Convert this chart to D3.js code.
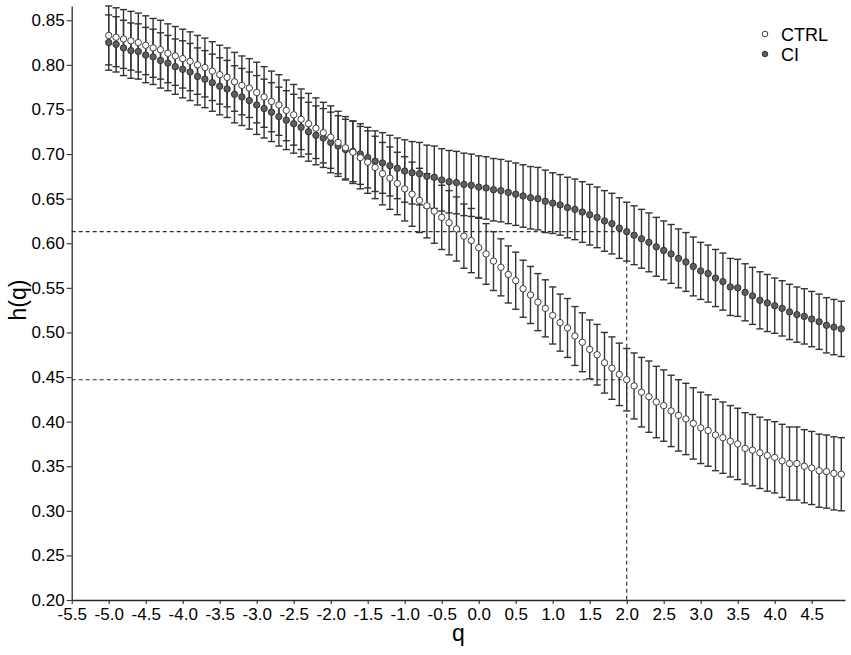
<!DOCTYPE html>
<html>
<head>
<meta charset="utf-8">
<script src="https://cdn.jsdelivr.net/npm/d3@7"></script>
<style>
  html, body { margin: 0; padding: 0; background: #fff; }
  svg { display: block; font-family: Arial, "Liberation Sans", sans-serif; }
</style>
</head>
<body>
<svg id="chart" width="851" height="655"></svg>
<script>
const qValues = [-5.0,-4.9,-4.8,-4.7,-4.6,-4.5,-4.4,-4.3,-4.2,-4.1,
  -4.0,-3.9,-3.8,-3.7,-3.6,-3.5,-3.4,-3.3,-3.2,-3.1,
  -3.0,-2.9,-2.8,-2.7,-2.6,-2.5,-2.4,-2.3,-2.2,-2.1,
  -2.0,-1.9,-1.8,-1.7,-1.6,-1.5,-1.4,-1.3,-1.2,-1.1,
  -1.0,-0.9,-0.8,-0.7,-0.6,-0.5,-0.4,-0.3,-0.2,-0.1,
  0.0,0.1,0.2,0.3,0.4,0.5,0.6,0.7,0.8,0.9,
  1.0,1.1,1.2,1.3,1.4,1.5,1.6,1.7,1.8,1.9,
  2.0,2.1,2.2,2.3,2.4,2.5,2.6,2.7,2.8,2.9,
  3.0,3.1,3.2,3.3,3.4,3.5,3.6,3.7,3.8,3.9,
  4.0,4.1,4.2,4.3,4.4,4.5,4.6,4.7,4.8,4.9];

const ctrlMean = [0.833,0.831,0.829,0.827,0.825,0.822,0.819,0.817,0.813,0.810,
  0.807,0.804,0.800,0.797,0.793,0.789,0.786,0.781,0.777,0.774,
  0.769,0.764,0.759,0.755,0.749,0.744,0.739,0.734,0.729,0.724,
  0.719,0.713,0.707,0.702,0.696,0.691,0.685,0.678,0.673,0.667,
  0.661,0.655,0.648,0.642,0.636,0.629,0.623,0.616,0.608,0.603,
  0.595,0.588,0.580,0.573,0.565,0.558,0.549,0.542,0.534,0.527,
  0.519,0.511,0.505,0.496,0.489,0.481,0.475,0.466,0.460,0.453,
  0.447,0.440,0.433,0.428,0.422,0.418,0.412,0.407,0.403,0.398,
  0.393,0.390,0.385,0.382,0.378,0.375,0.370,0.368,0.365,0.362,
  0.360,0.356,0.353,0.353,0.350,0.348,0.345,0.344,0.342,0.341];

const ctrlErr = [0.033,0.033,0.033,0.033,0.033,0.033,0.033,0.033,0.033,0.033,
  0.033,0.033,0.033,0.033,0.033,0.033,0.033,0.033,0.033,0.033,
  0.034,0.034,0.034,0.034,0.034,0.034,0.034,0.034,0.034,0.034,
  0.035,0.035,0.035,0.035,0.035,0.035,0.035,0.035,0.035,0.035,
  0.036,0.036,0.036,0.036,0.036,0.036,0.036,0.036,0.036,0.036,
  0.034,0.034,0.033,0.032,0.032,0.032,0.032,0.032,0.032,0.032,
  0.032,0.032,0.033,0.033,0.033,0.033,0.034,0.034,0.035,0.035,
  0.035,0.037,0.039,0.040,0.040,0.040,0.040,0.040,0.040,0.040,
  0.040,0.040,0.040,0.040,0.040,0.040,0.040,0.040,0.040,0.040,
  0.040,0.041,0.041,0.041,0.041,0.041,0.041,0.041,0.041,0.041];

const ciMean = [0.825,0.823,0.819,0.816,0.815,0.811,0.809,0.805,0.802,0.798,
  0.795,0.792,0.787,0.784,0.780,0.776,0.773,0.767,0.764,0.760,
  0.755,0.751,0.747,0.742,0.738,0.734,0.730,0.725,0.721,0.718,
  0.713,0.709,0.705,0.703,0.700,0.696,0.692,0.690,0.687,0.684,
  0.681,0.679,0.678,0.675,0.674,0.671,0.669,0.668,0.666,0.665,
  0.663,0.662,0.660,0.659,0.657,0.655,0.653,0.651,0.650,0.647,
  0.645,0.643,0.640,0.638,0.635,0.632,0.629,0.625,0.622,0.617,
  0.613,0.609,0.605,0.601,0.596,0.592,0.588,0.583,0.579,0.574,
  0.569,0.566,0.561,0.557,0.551,0.550,0.545,0.541,0.536,0.533,
  0.530,0.527,0.523,0.520,0.518,0.515,0.512,0.508,0.506,0.504];

const ciErr = [0.031,0.031,0.031,0.031,0.031,0.031,0.031,0.031,0.031,0.031,
  0.032,0.032,0.032,0.032,0.032,0.032,0.032,0.032,0.032,0.032,
  0.033,0.033,0.033,0.033,0.033,0.033,0.033,0.033,0.033,0.033,
  0.034,0.034,0.034,0.034,0.034,0.034,0.034,0.034,0.034,0.034,
  0.035,0.035,0.035,0.035,0.035,0.035,0.035,0.035,0.035,0.035,
  0.035,0.035,0.035,0.035,0.035,0.035,0.035,0.035,0.035,0.035,
  0.034,0.034,0.034,0.034,0.034,0.034,0.034,0.034,0.034,0.034,
  0.033,0.033,0.033,0.033,0.033,0.033,0.033,0.033,0.033,0.033,
  0.032,0.032,0.032,0.032,0.032,0.032,0.032,0.032,0.032,0.032,
  0.031,0.031,0.031,0.031,0.031,0.031,0.031,0.031,0.031,0.031];

const seriesNames = ["CTRL", "CI"];
const xTicks = [-5.5,-5.0,-4.5,-4.0,-3.5,-3.0,-2.5,-2.0,-1.5,-1.0,-0.5,0.0,0.5,1.0,1.5,2.0,2.5,3.0,3.5,4.0,4.5];
const yTicks = [0.20,0.25,0.30,0.35,0.40,0.45,0.50,0.55,0.60,0.65,0.70,0.75,0.80,0.85];
const refQ = 2.0;
const refH = [0.613, 0.447];

const svg = d3.select("#chart");
const x = d3.scaleLinear().domain([-5.5, 4.95]).range([71.7, 845]);
const y = d3.scaleLinear().domain([0.2, 0.866]).range([600, 6]);

const ink = "#2b2b2b";

// reference dashed lines
const refG = svg.append("g").attr("stroke", ink).attr("stroke-width", 1.1)
  .attr("stroke-dasharray", "4,3").attr("fill", "none");
refH.forEach(h => {
  refG.append("line").attr("x1", x(-5.5)).attr("x2", x(refQ)).attr("y1", y(h)).attr("y2", y(h));
});
refG.append("line").attr("x1", x(refQ)).attr("x2", x(refQ)).attr("y1", y(refH[0])).attr("y2", y(0.2));

const ctrl = qValues.map((q, i) => ({q, m: ctrlMean[i], e: ctrlErr[i]}));
const ci = qValues.map((q, i) => ({q, m: ciMean[i], e: ciErr[i]}));

function errorBars(data) {
  const g = svg.append("g").attr("stroke", "#333").attr("stroke-width", 1.4).attr("fill", "none");
  const cap = 3.6;
  data.forEach(d => {
    const cx = x(d.q), y1 = y(d.m + d.e), y2 = y(d.m - d.e);
    g.append("line").attr("x1", cx).attr("x2", cx).attr("y1", y1).attr("y2", y2);
    g.append("line").attr("x1", cx - cap).attr("x2", cx + cap).attr("y1", y1).attr("y2", y1);
    g.append("line").attr("x1", cx - cap).attr("x2", cx + cap).attr("y1", y2).attr("y2", y2);
  });
}
errorBars(ctrl);
errorBars(ci);

svg.append("g").selectAll("circle").data(ci).join("circle")
  .attr("cx", d => x(d.q)).attr("cy", d => y(d.m)).attr("r", 3.2)
  .attr("fill", "#5e5e5e").attr("stroke", "#2a2a2a").attr("stroke-width", 0.9);
svg.append("g").selectAll("circle").data(ctrl).join("circle")
  .attr("cx", d => x(d.q)).attr("cy", d => y(d.m)).attr("r", 3.2)
  .attr("fill", "#fff").attr("stroke", "#2a2a2a").attr("stroke-width", 0.9);

// axes
const fmt = d => d.toFixed(1);
const xAxis = svg.append("g").attr("transform", "translate(0,600)")
  .call(d3.axisBottom(x).tickValues(xTicks).tickFormat(fmt).tickSize(4).tickSizeOuter(0));
const yAxis = svg.append("g").attr("transform", "translate(71.7,0)")
  .call(d3.axisLeft(y).tickValues(yTicks).tickFormat(d => d.toFixed(2)).tickSize(5).tickSizeOuter(0));
[xAxis, yAxis].forEach(a => {
  a.select(".domain").attr("stroke", ink).attr("stroke-width", 1.3);
  a.selectAll(".tick line").attr("stroke", ink).attr("stroke-width", 1.1);
  a.selectAll(".tick text").attr("fill", "#000").attr("font-size", 17)
    .attr("font-family", "Arial, 'Liberation Sans', sans-serif");
});
xAxis.selectAll(".tick text").attr("dy", "0.95em").attr("y", 4);
yAxis.selectAll(".tick text").attr("x", -7);

// axis titles
svg.append("text").attr("x", (x(-5.5) + x(4.95)) / 2).attr("y", 641)
  .attr("text-anchor", "middle").attr("font-size", 23).attr("fill", "#000").text("q");
svg.append("text").attr("transform", "translate(26,300) rotate(-90)")
  .attr("text-anchor", "middle").attr("font-size", 23).attr("fill", "#000").text("h(q)");

// legend
const legend = svg.append("g");
const legFill = ["#fff", "#5e5e5e"];
seriesNames.forEach((name, i) => {
  const ly = 34 + i * 20;
  legend.append("circle").attr("cx", 765).attr("cy", ly).attr("r", 2.8)
    .attr("fill", legFill[i]).attr("stroke", "#2a2a2a").attr("stroke-width", 0.9);
  legend.append("text").attr("x", 781).attr("y", ly + 6.5).attr("font-size", 18)
    .attr("fill", "#000").text(name);
});
</script>
</body>
</html>
